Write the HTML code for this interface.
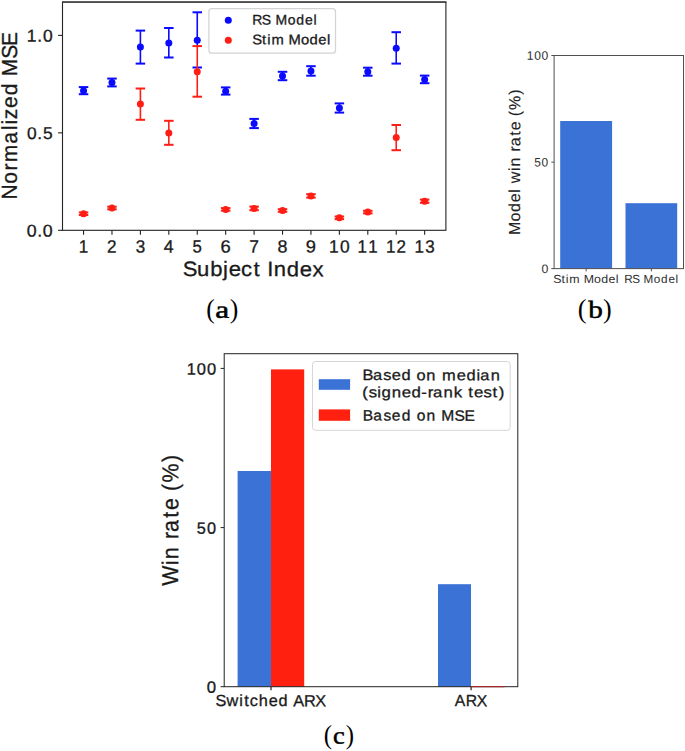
<!DOCTYPE html>
<html><head><meta charset="utf-8"><style>
html,body{margin:0;padding:0;background:#fff;}
svg{display:block;}
</style></head><body>
<svg width="685" height="751" viewBox="0 0 685 751">
<rect width="685" height="751" fill="#fff"/>
<line x1="83.55" y1="86.90" x2="83.55" y2="94.40" stroke="#0a0aff" stroke-width="1.6"/>
<line x1="78.80" y1="87.10" x2="88.30" y2="87.10" stroke="#0a0aff" stroke-width="2.0"/>
<line x1="78.80" y1="94.20" x2="88.30" y2="94.20" stroke="#0a0aff" stroke-width="2.0"/>
<circle cx="83.55" cy="90.66" r="3.5" fill="#0a0aff"/>
<line x1="111.97" y1="78.40" x2="111.97" y2="86.60" stroke="#0a0aff" stroke-width="1.6"/>
<line x1="107.22" y1="78.60" x2="116.72" y2="78.60" stroke="#0a0aff" stroke-width="2.0"/>
<line x1="107.22" y1="86.40" x2="116.72" y2="86.40" stroke="#0a0aff" stroke-width="2.0"/>
<circle cx="111.97" cy="82.56" r="3.5" fill="#0a0aff"/>
<line x1="140.40" y1="30.40" x2="140.40" y2="63.80" stroke="#0a0aff" stroke-width="1.6"/>
<line x1="135.65" y1="30.60" x2="145.15" y2="30.60" stroke="#0a0aff" stroke-width="2.0"/>
<line x1="135.65" y1="63.60" x2="145.15" y2="63.60" stroke="#0a0aff" stroke-width="2.0"/>
<circle cx="140.40" cy="47.07" r="3.5" fill="#0a0aff"/>
<line x1="168.82" y1="27.80" x2="168.82" y2="57.70" stroke="#0a0aff" stroke-width="1.6"/>
<line x1="164.07" y1="28.00" x2="173.57" y2="28.00" stroke="#0a0aff" stroke-width="2.0"/>
<line x1="164.07" y1="57.50" x2="173.57" y2="57.50" stroke="#0a0aff" stroke-width="2.0"/>
<circle cx="168.82" cy="43.00" r="3.5" fill="#0a0aff"/>
<line x1="197.25" y1="12.10" x2="197.25" y2="45.90" stroke="#0a0aff" stroke-width="1.6"/>
<line x1="192.50" y1="12.30" x2="202.00" y2="12.30" stroke="#0a0aff" stroke-width="2.0"/>
<line x1="192.50" y1="67.50" x2="202.00" y2="67.50" stroke="#0a0aff" stroke-width="2.0"/>
<circle cx="197.25" cy="40.30" r="3.5" fill="#0a0aff"/>
<line x1="225.67" y1="87.20" x2="225.67" y2="94.80" stroke="#0a0aff" stroke-width="1.6"/>
<line x1="220.92" y1="87.40" x2="230.42" y2="87.40" stroke="#0a0aff" stroke-width="2.0"/>
<line x1="220.92" y1="94.60" x2="230.42" y2="94.60" stroke="#0a0aff" stroke-width="2.0"/>
<circle cx="225.67" cy="91.20" r="3.5" fill="#0a0aff"/>
<line x1="254.10" y1="118.70" x2="254.10" y2="128.30" stroke="#0a0aff" stroke-width="1.6"/>
<line x1="249.35" y1="118.90" x2="258.85" y2="118.90" stroke="#0a0aff" stroke-width="2.0"/>
<line x1="249.35" y1="128.10" x2="258.85" y2="128.10" stroke="#0a0aff" stroke-width="2.0"/>
<circle cx="254.10" cy="123.40" r="3.5" fill="#0a0aff"/>
<line x1="282.53" y1="71.60" x2="282.53" y2="80.40" stroke="#0a0aff" stroke-width="1.6"/>
<line x1="277.78" y1="71.80" x2="287.28" y2="71.80" stroke="#0a0aff" stroke-width="2.0"/>
<line x1="277.78" y1="80.20" x2="287.28" y2="80.20" stroke="#0a0aff" stroke-width="2.0"/>
<circle cx="282.53" cy="75.90" r="3.5" fill="#0a0aff"/>
<line x1="310.95" y1="66.00" x2="310.95" y2="75.90" stroke="#0a0aff" stroke-width="1.6"/>
<line x1="306.20" y1="66.20" x2="315.70" y2="66.20" stroke="#0a0aff" stroke-width="2.0"/>
<line x1="306.20" y1="75.70" x2="315.70" y2="75.70" stroke="#0a0aff" stroke-width="2.0"/>
<circle cx="310.95" cy="71.10" r="3.5" fill="#0a0aff"/>
<line x1="339.38" y1="103.20" x2="339.38" y2="112.80" stroke="#0a0aff" stroke-width="1.6"/>
<line x1="334.63" y1="103.40" x2="344.13" y2="103.40" stroke="#0a0aff" stroke-width="2.0"/>
<line x1="334.63" y1="112.60" x2="344.13" y2="112.60" stroke="#0a0aff" stroke-width="2.0"/>
<circle cx="339.38" cy="108.00" r="3.5" fill="#0a0aff"/>
<line x1="367.80" y1="67.50" x2="367.80" y2="75.90" stroke="#0a0aff" stroke-width="1.6"/>
<line x1="363.05" y1="67.70" x2="372.55" y2="67.70" stroke="#0a0aff" stroke-width="2.0"/>
<line x1="363.05" y1="75.70" x2="372.55" y2="75.70" stroke="#0a0aff" stroke-width="2.0"/>
<circle cx="367.80" cy="71.70" r="3.5" fill="#0a0aff"/>
<line x1="396.23" y1="32.00" x2="396.23" y2="63.80" stroke="#0a0aff" stroke-width="1.6"/>
<line x1="391.48" y1="32.20" x2="400.98" y2="32.20" stroke="#0a0aff" stroke-width="2.0"/>
<line x1="391.48" y1="63.60" x2="400.98" y2="63.60" stroke="#0a0aff" stroke-width="2.0"/>
<circle cx="396.23" cy="48.30" r="3.5" fill="#0a0aff"/>
<line x1="424.65" y1="75.40" x2="424.65" y2="83.40" stroke="#0a0aff" stroke-width="1.6"/>
<line x1="419.90" y1="75.60" x2="429.40" y2="75.60" stroke="#0a0aff" stroke-width="2.0"/>
<line x1="419.90" y1="83.20" x2="429.40" y2="83.20" stroke="#0a0aff" stroke-width="2.0"/>
<circle cx="424.65" cy="79.40" r="3.5" fill="#0a0aff"/>
<line x1="83.55" y1="212.20" x2="83.55" y2="215.20" stroke="#ff1e16" stroke-width="1.6"/>
<line x1="78.80" y1="212.40" x2="88.30" y2="212.40" stroke="#ff1e16" stroke-width="2.0"/>
<line x1="78.80" y1="215.00" x2="88.30" y2="215.00" stroke="#ff1e16" stroke-width="2.0"/>
<circle cx="83.55" cy="213.70" r="3.5" fill="#ff1e16"/>
<line x1="111.97" y1="206.50" x2="111.97" y2="209.50" stroke="#ff1e16" stroke-width="1.6"/>
<line x1="107.22" y1="206.70" x2="116.72" y2="206.70" stroke="#ff1e16" stroke-width="2.0"/>
<line x1="107.22" y1="209.30" x2="116.72" y2="209.30" stroke="#ff1e16" stroke-width="2.0"/>
<circle cx="111.97" cy="208.00" r="3.5" fill="#ff1e16"/>
<line x1="140.40" y1="88.30" x2="140.40" y2="120.00" stroke="#ff1e16" stroke-width="1.6"/>
<line x1="135.65" y1="88.50" x2="145.15" y2="88.50" stroke="#ff1e16" stroke-width="2.0"/>
<line x1="135.65" y1="119.80" x2="145.15" y2="119.80" stroke="#ff1e16" stroke-width="2.0"/>
<circle cx="140.40" cy="104.00" r="3.5" fill="#ff1e16"/>
<line x1="168.82" y1="120.60" x2="168.82" y2="145.00" stroke="#ff1e16" stroke-width="1.6"/>
<line x1="164.07" y1="120.80" x2="173.57" y2="120.80" stroke="#ff1e16" stroke-width="2.0"/>
<line x1="164.07" y1="144.80" x2="173.57" y2="144.80" stroke="#ff1e16" stroke-width="2.0"/>
<circle cx="168.82" cy="132.90" r="3.5" fill="#ff1e16"/>
<line x1="197.25" y1="45.90" x2="197.25" y2="96.90" stroke="#ff1e16" stroke-width="1.6"/>
<line x1="192.50" y1="46.10" x2="202.00" y2="46.10" stroke="#ff1e16" stroke-width="2.0"/>
<line x1="192.50" y1="96.70" x2="202.00" y2="96.70" stroke="#ff1e16" stroke-width="2.0"/>
<circle cx="197.25" cy="71.70" r="3.5" fill="#ff1e16"/>
<line x1="225.67" y1="207.90" x2="225.67" y2="210.90" stroke="#ff1e16" stroke-width="1.6"/>
<line x1="220.92" y1="208.10" x2="230.42" y2="208.10" stroke="#ff1e16" stroke-width="2.0"/>
<line x1="220.92" y1="210.70" x2="230.42" y2="210.70" stroke="#ff1e16" stroke-width="2.0"/>
<circle cx="225.67" cy="209.40" r="3.5" fill="#ff1e16"/>
<line x1="254.10" y1="206.40" x2="254.10" y2="210.40" stroke="#ff1e16" stroke-width="1.6"/>
<line x1="249.35" y1="206.60" x2="258.85" y2="206.60" stroke="#ff1e16" stroke-width="2.0"/>
<line x1="249.35" y1="210.20" x2="258.85" y2="210.20" stroke="#ff1e16" stroke-width="2.0"/>
<circle cx="254.10" cy="208.40" r="3.5" fill="#ff1e16"/>
<line x1="282.53" y1="209.00" x2="282.53" y2="212.00" stroke="#ff1e16" stroke-width="1.6"/>
<line x1="277.78" y1="209.20" x2="287.28" y2="209.20" stroke="#ff1e16" stroke-width="2.0"/>
<line x1="277.78" y1="211.80" x2="287.28" y2="211.80" stroke="#ff1e16" stroke-width="2.0"/>
<circle cx="282.53" cy="210.50" r="3.5" fill="#ff1e16"/>
<line x1="310.95" y1="194.00" x2="310.95" y2="197.80" stroke="#ff1e16" stroke-width="1.6"/>
<line x1="306.20" y1="194.20" x2="315.70" y2="194.20" stroke="#ff1e16" stroke-width="2.0"/>
<line x1="306.20" y1="197.60" x2="315.70" y2="197.60" stroke="#ff1e16" stroke-width="2.0"/>
<circle cx="310.95" cy="195.90" r="3.5" fill="#ff1e16"/>
<line x1="339.38" y1="216.30" x2="339.38" y2="219.30" stroke="#ff1e16" stroke-width="1.6"/>
<line x1="334.63" y1="216.50" x2="344.13" y2="216.50" stroke="#ff1e16" stroke-width="2.0"/>
<line x1="334.63" y1="219.10" x2="344.13" y2="219.10" stroke="#ff1e16" stroke-width="2.0"/>
<circle cx="339.38" cy="217.80" r="3.5" fill="#ff1e16"/>
<line x1="367.80" y1="210.60" x2="367.80" y2="213.60" stroke="#ff1e16" stroke-width="1.6"/>
<line x1="363.05" y1="210.80" x2="372.55" y2="210.80" stroke="#ff1e16" stroke-width="2.0"/>
<line x1="363.05" y1="213.40" x2="372.55" y2="213.40" stroke="#ff1e16" stroke-width="2.0"/>
<circle cx="367.80" cy="212.10" r="3.5" fill="#ff1e16"/>
<line x1="396.23" y1="124.80" x2="396.23" y2="150.40" stroke="#ff1e16" stroke-width="1.6"/>
<line x1="391.48" y1="125.00" x2="400.98" y2="125.00" stroke="#ff1e16" stroke-width="2.0"/>
<line x1="391.48" y1="150.20" x2="400.98" y2="150.20" stroke="#ff1e16" stroke-width="2.0"/>
<circle cx="396.23" cy="137.60" r="3.5" fill="#ff1e16"/>
<line x1="424.65" y1="199.40" x2="424.65" y2="203.00" stroke="#ff1e16" stroke-width="1.6"/>
<line x1="419.90" y1="199.60" x2="429.40" y2="199.60" stroke="#ff1e16" stroke-width="2.0"/>
<line x1="419.90" y1="202.80" x2="429.40" y2="202.80" stroke="#ff1e16" stroke-width="2.0"/>
<circle cx="424.65" cy="201.20" r="3.5" fill="#ff1e16"/>
<rect x="62.50" y="2.00" width="383.40" height="228.30" fill="none" stroke="#222" stroke-width="1.1"/>
<line x1="62.00" y1="2.10" x2="446.40" y2="2.10" stroke="#3a3a3a" stroke-width="1.4"/>
<line x1="58.10" y1="230.30" x2="62.50" y2="230.30" stroke="#222" stroke-width="1.1"/>
<text transform="matrix(1.04694 0.0015 0 1 0 236.3978)" x="25.55 35.59 40.91" y="0" font-family='"Liberation Sans", sans-serif' font-size="17.006" fill="#1a1a1a" stroke="#1a1a1a" stroke-width="0.3">0.0</text>
<line x1="58.10" y1="132.85" x2="62.50" y2="132.85" stroke="#222" stroke-width="1.1"/>
<text transform="matrix(1.02036 0.0015 0 1 0 138.9477)" x="26.34 36.58 42.03" y="0" font-family='"Liberation Sans", sans-serif' font-size="17.006" fill="#1a1a1a" stroke="#1a1a1a" stroke-width="0.3">0.5</text>
<line x1="58.10" y1="35.40" x2="62.50" y2="35.40" stroke="#222" stroke-width="1.1"/>
<text transform="matrix(1.02692 0.0015 0 1 0 41.4977)" x="26.06 36.33 41.80" y="0" font-family='"Liberation Sans", sans-serif' font-size="17.006" fill="#1a1a1a" stroke="#1a1a1a" stroke-width="0.3">1.0</text>
<line x1="83.55" y1="230.30" x2="83.55" y2="234.70" stroke="#222" stroke-width="1.1"/>
<text transform="matrix(0.95871 0.0015 0 1 0 252.3319)" x="82.14" y="0" font-family='"Liberation Sans", sans-serif' font-size="17.695" fill="#1a1a1a" stroke="#1a1a1a" stroke-width="0.3">1</text>
<line x1="111.97" y1="230.30" x2="111.97" y2="234.70" stroke="#222" stroke-width="1.1"/>
<text transform="matrix(0.96754 0.0015 0 1 0 252.2895)" x="110.58" y="0" font-family='"Liberation Sans", sans-serif' font-size="17.695" fill="#1a1a1a" stroke="#1a1a1a" stroke-width="0.3">2</text>
<line x1="140.40" y1="230.30" x2="140.40" y2="234.70" stroke="#222" stroke-width="1.1"/>
<text transform="matrix(0.96400 0.0015 0 1 0 252.2465)" x="140.74" y="0" font-family='"Liberation Sans", sans-serif' font-size="17.695" fill="#1a1a1a" stroke="#1a1a1a" stroke-width="0.3">3</text>
<line x1="168.82" y1="230.30" x2="168.82" y2="234.70" stroke="#222" stroke-width="1.1"/>
<text transform="matrix(1.00391 0.0015 0 1 0 252.2042)" x="163.24" y="0" font-family='"Liberation Sans", sans-serif' font-size="17.695" fill="#1a1a1a" stroke="#1a1a1a" stroke-width="0.3">4</text>
<line x1="197.25" y1="230.30" x2="197.25" y2="234.70" stroke="#222" stroke-width="1.1"/>
<text transform="matrix(0.94733 0.0015 0 1 0 252.1612)" x="203.22" y="0" font-family='"Liberation Sans", sans-serif' font-size="17.695" fill="#1a1a1a" stroke="#1a1a1a" stroke-width="0.3">5</text>
<line x1="225.67" y1="230.30" x2="225.67" y2="234.70" stroke="#222" stroke-width="1.1"/>
<text transform="matrix(1.03889 0.0015 0 1 0 252.1192)" x="212.30" y="0" font-family='"Liberation Sans", sans-serif' font-size="17.695" fill="#1a1a1a" stroke="#1a1a1a" stroke-width="0.3">6</text>
<line x1="254.10" y1="230.30" x2="254.10" y2="234.70" stroke="#222" stroke-width="1.1"/>
<text transform="matrix(0.98190 0.0015 0 1 0 252.0762)" x="253.83" y="0" font-family='"Liberation Sans", sans-serif' font-size="17.695" fill="#1a1a1a" stroke="#1a1a1a" stroke-width="0.3">7</text>
<line x1="282.53" y1="230.30" x2="282.53" y2="234.70" stroke="#222" stroke-width="1.1"/>
<text transform="matrix(1.01466 0.0015 0 1 0 252.0337)" x="273.52" y="0" font-family='"Liberation Sans", sans-serif' font-size="17.695" fill="#1a1a1a" stroke="#1a1a1a" stroke-width="0.3">8</text>
<line x1="310.95" y1="230.30" x2="310.95" y2="234.70" stroke="#222" stroke-width="1.1"/>
<text transform="matrix(1.03679 0.0015 0 1 0 251.9913)" x="294.94" y="0" font-family='"Liberation Sans", sans-serif' font-size="17.695" fill="#1a1a1a" stroke="#1a1a1a" stroke-width="0.3">9</text>
<line x1="339.38" y1="230.30" x2="339.38" y2="234.70" stroke="#222" stroke-width="1.1"/>
<text transform="matrix(0.98241 0.0015 0 1 0 251.9483)" x="334.99 345.98" y="0" font-family='"Liberation Sans", sans-serif' font-size="17.695" fill="#1a1a1a" stroke="#1a1a1a" stroke-width="0.3">10</text>
<line x1="367.80" y1="230.30" x2="367.80" y2="234.70" stroke="#222" stroke-width="1.1"/>
<text transform="matrix(0.95871 0.0015 0 1 0 251.9055)" x="373.04 384.23" y="0" font-family='"Liberation Sans", sans-serif' font-size="17.695" fill="#1a1a1a" stroke="#1a1a1a" stroke-width="0.3">11</text>
<line x1="396.23" y1="230.30" x2="396.23" y2="234.70" stroke="#222" stroke-width="1.1"/>
<text transform="matrix(0.96325 0.0015 0 1 0 251.8630)" x="400.77 411.75" y="0" font-family='"Liberation Sans", sans-serif' font-size="17.695" fill="#1a1a1a" stroke="#1a1a1a" stroke-width="0.3">12</text>
<line x1="424.65" y1="230.30" x2="424.65" y2="234.70" stroke="#222" stroke-width="1.1"/>
<text transform="matrix(0.96148 0.0015 0 1 0 251.8202)" x="431.08 442.34" y="0" font-family='"Liberation Sans", sans-serif' font-size="17.695" fill="#1a1a1a" stroke="#1a1a1a" stroke-width="0.3">13</text>
<text transform="matrix(1.06344 0.0015 0 1 0 275.7286)" x="171.84 185.16 197.64 209.72 215.10 226.72 238.36 245.10 251.25 257.42 269.59 281.88 293.76" y="0" font-family='"Liberation Sans", sans-serif' font-size="20.768" fill="#1a1a1a" stroke="#1a1a1a" stroke-width="0.3">Subject Index</text>
<text transform="translate(16.950 0) rotate(-90) matrix(0.96739 0.0015 0 1 0 0.1904)" x="-206.33 -190.03 -176.29 -167.71 -148.64 -134.73 -128.80 -123.18 -111.70 -98.56 -85.62 -78.70 -60.83 -47.51" y="0" font-family='"Liberation Sans", sans-serif' font-size="21.722" fill="#1a1a1a" stroke="#1a1a1a" stroke-width="0.3">Normalized MSE</text>
<rect x="208.9" y="8.7" width="126.6" height="44.5" rx="3" fill="#fff" fill-opacity="0.8" stroke="#d4d4d4" stroke-width="1.25"/>
<circle cx="228.3" cy="20.2" r="3.5" fill="#0a0aff"/>
<circle cx="228.3" cy="40.3" r="3.5" fill="#ff1e16"/>
<text transform="matrix(1.00902 0.0015 0 1 0 24.0255)" x="250.09 259.50 268.43 273.00 285.10 293.61 302.36 310.81" y="0" font-family='"Liberation Sans", sans-serif' font-size="13.881" fill="#1a1a1a" stroke="#1a1a1a" stroke-width="0.3">RS Model</text>
<text transform="matrix(1.06468 0.0015 0 1 0 43.8656)" x="236.83 246.14 250.95 254.93 267.05 271.08 282.65 290.72 299.00 307.13" y="0" font-family='"Liberation Sans", sans-serif' font-size="13.881" fill="#1a1a1a" stroke="#1a1a1a" stroke-width="0.3">Stim Model</text>
<text transform="matrix(1 0.0015 0 1 0 317.7375)" x="206.271" y="0" font-family='"Liberation Serif", serif' font-size="27.462" fill="#000" textLength="8.557" lengthAdjust="spacingAndGlyphs">(</text>
<text transform="matrix(1 0.0015 0 1 0 317.3667)" x="215.246" y="0" font-family='"Liberation Serif", serif' font-size="24.188" fill="#000" textLength="13.933" lengthAdjust="spacingAndGlyphs" stroke="#000" stroke-width="0.5">a</text>
<text transform="matrix(1 0.0015 0 1 0 317.7022)" x="229.772" y="0" font-family='"Liberation Serif", serif' font-size="27.462" fill="#000" textLength="8.557" lengthAdjust="spacingAndGlyphs">)</text>
<rect x="560.20" y="121.00" width="51.90" height="147.60" fill="#3a72d5"/>
<rect x="625.50" y="203.20" width="51.70" height="65.40" fill="#3a72d5"/>
<rect x="554.10" y="55.50" width="129.40" height="213.10" fill="none" stroke="#505050" stroke-width="1"/>
<line x1="551.30" y1="55.50" x2="554.10" y2="55.50" stroke="#505050" stroke-width="1"/>
<text transform="matrix(0.98519 0.0015 0 1 0 58.9988)" x="534.61 542.20 549.72" y="0" font-family='"Liberation Sans", sans-serif' font-size="12.291" fill="#2e2e2e" stroke="#2e2e2e" stroke-width="0.0">100</text>
<line x1="551.30" y1="162.15" x2="554.10" y2="162.15" stroke="#505050" stroke-width="1"/>
<text transform="matrix(0.97116 0.0015 0 1 0 165.6432)" x="550.04 557.71" y="0" font-family='"Liberation Sans", sans-serif' font-size="12.291" fill="#2e2e2e" stroke="#2e2e2e" stroke-width="0.0">50</text>
<line x1="551.30" y1="268.60" x2="554.10" y2="268.60" stroke="#505050" stroke-width="1"/>
<text transform="matrix(0.99914 0.0015 0 1 0 272.0877)" x="542.00" y="0" font-family='"Liberation Sans", sans-serif' font-size="12.291" fill="#2e2e2e" stroke="#2e2e2e" stroke-width="0.0">0</text>
<line x1="586.15" y1="268.60" x2="586.15" y2="271.40" stroke="#505050" stroke-width="1"/>
<line x1="651.35" y1="268.60" x2="651.35" y2="271.40" stroke="#505050" stroke-width="1"/>
<text transform="matrix(1.05086 0.0015 0 1 0 282.1233)" x="526.40 534.29 538.37 541.74 552.01 555.42 565.22 572.06 579.08 585.97" y="0" font-family='"Liberation Sans", sans-serif' font-size="11.761" fill="#2e2e2e" stroke="#2e2e2e" stroke-width="0.0">Stim Model</text>
<text transform="matrix(0.99592 0.0015 0 1 0 282.0252)" x="626.84 634.81 642.38 646.25 656.50 663.71 671.12 678.29" y="0" font-family='"Liberation Sans", sans-serif' font-size="11.761" fill="#2e2e2e" stroke="#2e2e2e" stroke-width="0.0">RS Model</text>
<text transform="translate(520.100 0) rotate(-90) matrix(0.99534 0.0015 0 1 0 0.2485)" x="-236.12 -222.48 -212.94 -203.14 -193.58 -189.64 -184.20 -171.69 -167.29 -157.96 -152.22 -146.97 -136.42 -130.79 -121.60 -116.74 -110.42 -95.18" y="0" font-family='"Liberation Sans", sans-serif' font-size="16.053" fill="#222" stroke="#222" stroke-width="0.12">Model win rate (%)</text>
<text transform="matrix(1 0.0015 0 1 0 317.1799)" x="577.837" y="0" font-family='"Liberation Serif", serif' font-size="27.462" fill="#000" textLength="8.817" lengthAdjust="spacingAndGlyphs">(</text>
<text transform="matrix(1 0.0015 0 1 0 316.9067)" x="588.250" y="0" font-family='"Liberation Serif", serif' font-size="24.573" fill="#000" textLength="14.613" lengthAdjust="spacingAndGlyphs" stroke="#000" stroke-width="0.5">b</text>
<text transform="matrix(1 0.0015 0 1 0 317.1422)" x="603.059" y="0" font-family='"Liberation Serif", serif' font-size="27.462" fill="#000" textLength="8.687" lengthAdjust="spacingAndGlyphs">)</text>
<rect x="237.60" y="471.00" width="33.40" height="215.70" fill="#3a72d5"/>
<rect x="271.00" y="369.40" width="33.20" height="317.30" fill="#ff2010"/>
<rect x="438.00" y="584.20" width="33.00" height="102.50" fill="#3a72d5"/>
<rect x="224.20" y="353.70" width="293.60" height="333.00" fill="none" stroke="#222" stroke-width="1"/>
<line x1="220.60" y1="368.40" x2="224.20" y2="368.40" stroke="#222" stroke-width="1"/>
<text transform="matrix(1.01281 0.0015 0 1 0 374.2548)" x="184.27 194.34 204.33" y="0" font-family='"Liberation Sans", sans-serif' font-size="16.318" fill="#1a1a1a" stroke="#1a1a1a" stroke-width="0.3">100</text>
<line x1="220.60" y1="527.60" x2="224.20" y2="527.60" stroke="#222" stroke-width="1"/>
<text transform="matrix(0.99839 0.0015 0 1 0 533.4471)" x="197.15 207.34" y="0" font-family='"Liberation Sans", sans-serif' font-size="16.318" fill="#1a1a1a" stroke="#1a1a1a" stroke-width="0.3">50</text>
<line x1="220.60" y1="686.70" x2="224.20" y2="686.70" stroke="#222" stroke-width="1"/>
<text transform="matrix(1.02715 0.0015 0 1 0 692.5397)" x="201.41" y="0" font-family='"Liberation Sans", sans-serif' font-size="16.318" fill="#1a1a1a" stroke="#1a1a1a" stroke-width="0.3">0</text>
<line x1="271.00" y1="686.70" x2="271.00" y2="690.30" stroke="#222" stroke-width="1.2"/>
<line x1="471.10" y1="686.70" x2="471.10" y2="690.30" stroke="#222" stroke-width="1.2"/>
<text transform="matrix(1.01088 0.0015 0 1 0 705.7019)" x="213.23 224.11 236.77 241.54 247.02 256.07 265.91 275.61 285.18 290.19 300.85 311.86" y="0" font-family='"Liberation Sans", sans-serif' font-size="16.106" fill="#1a1a1a" stroke="#1a1a1a" stroke-width="0.3">Switched ARX</text>
<text transform="matrix(0.97645 0.0015 0 1 0 705.4012)" x="465.85 476.91 488.29" y="0" font-family='"Liberation Sans", sans-serif' font-size="16.106" fill="#1a1a1a" stroke="#1a1a1a" stroke-width="0.3">ARX</text>
<line x1="471.00" y1="686.70" x2="504.50" y2="686.70" stroke="#a02a2a" stroke-width="1.3"/>
<text transform="translate(178.200 0) rotate(-90) matrix(0.93120 0.0015 0 1 0 0.8440)" x="-629.15 -607.12 -600.69 -587.23 -578.86 -571.21 -555.96 -547.75 -534.49 -527.39 -518.16 -496.14" y="0" font-family='"Liberation Sans", sans-serif' font-size="22.993" fill="#1a1a1a" stroke="#1a1a1a" stroke-width="0.3">Win rate (%)</text>
<rect x="312.5" y="361.5" width="197.7" height="68.8" rx="3" fill="#fff" fill-opacity="0.8" stroke="#d6d6d6" stroke-width="1"/>
<rect x="318.80" y="379.20" width="31.30" height="10.60" fill="#3a72d5"/>
<rect x="318.80" y="409.40" width="31.30" height="11.40" fill="#ff2010"/>
<text transform="matrix(1.09950 0.0015 0 1 0 379.5601)" x="329.59 339.27 348.50 356.21 365.10 373.93 378.77 387.79 396.48 401.91 415.43 424.33 433.50 436.88 446.44" y="0" font-family='"Liberation Sans", sans-serif' font-size="14.940" fill="#1a1a1a" stroke="#1a1a1a" stroke-width="0.3">Based on median</text>
<text transform="matrix(1.12464 0.0015 0 1 0 396.6543)" x="322.16 327.82 335.43 339.28 348.34 357.14 365.85 374.62 380.33 385.08 394.43 403.48 411.19 416.33 421.42 429.92 437.88 443.40" y="0" font-family='"Liberation Sans", sans-serif' font-size="14.940" fill="#1a1a1a" stroke="#1a1a1a" stroke-width="0.3">(signed-rank test)</text>
<text transform="matrix(1.04443 0.0015 0 1 0 419.9796)" x="347.24 357.39 367.07 375.20 384.56 393.64 398.96 408.45 417.38 422.54 435.23 444.73" y="0" font-family='"Liberation Sans", sans-serif' font-size="14.940" fill="#1a1a1a" stroke="#1a1a1a" stroke-width="0.3">Based on MSE</text>
<text transform="matrix(1 0.0015 0 1 0 743.2554)" x="323.705" y="0" font-family='"Liberation Serif", serif' font-size="27.021" fill="#000" textLength="8.298" lengthAdjust="spacingAndGlyphs">(</text>
<text transform="matrix(1 0.0015 0 1 0 743.0918)" x="332.945" y="0" font-family='"Liberation Serif", serif' font-size="24.088" fill="#000" textLength="11.718" lengthAdjust="spacingAndGlyphs" stroke="#000" stroke-width="0.5">c</text>
<text transform="matrix(1 0.0015 0 1 0 743.2223)" x="345.797" y="0" font-family='"Liberation Serif", serif' font-size="27.021" fill="#000" textLength="8.298" lengthAdjust="spacingAndGlyphs">)</text>
</svg>
</body></html>
